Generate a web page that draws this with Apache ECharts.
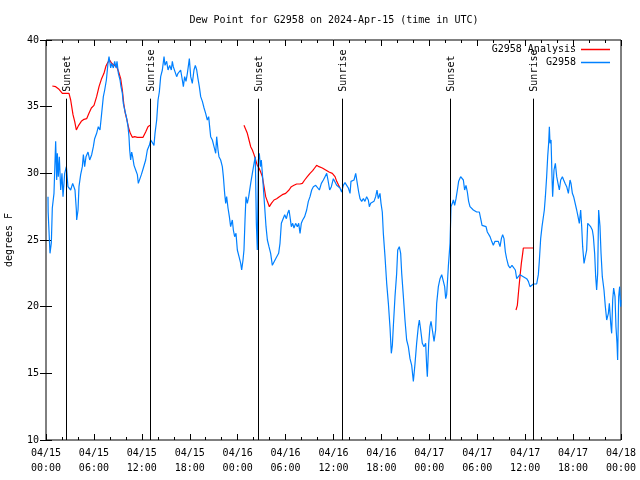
<!DOCTYPE html>
<html>
<head>
<meta charset="utf-8">
<script src="https://cdn.jsdelivr.net/npm/echarts@6/dist/echarts.min.js"></script>
<style>html,body{margin:0;padding:0;background:#fff}#c{width:640px;height:480px}</style>
</head>
<body>
<div id="c"></div>
<script>
// Hours since 2024-04-15 00:00 UTC
var tickLabels = ['04/15\n00:00','04/15\n06:00','04/15\n12:00','04/15\n18:00','04/16\n00:00','04/16\n06:00','04/16\n12:00','04/16\n18:00','04/17\n00:00','04/17\n06:00','04/17\n12:00','04/17\n18:00','04/18\n00:00'];

var eventHours = [2.55, 13.07, 26.58, 37.05, 50.6, 61.02];
var eventLabels = ['Sunset','Sunrise','Sunset','Sunrise','Sunset','Sunrise'];
var eventTop = 35.6;

var blueHours = [0.25,0.27,0.50,0.67,0.79,1.00,1.21,1.34,1.42,1.54,1.67,1.84,2.00,2.13,2.34,2.55,2.75,3.09,3.34,3.51,3.63,3.80,3.84,4.01,4.13,4.34,4.55,4.68,4.84,5.01,5.26,5.47,5.72,5.93,6.09,6.34,6.55,6.76,6.97,7.18,7.35,7.56,7.76,7.89,8.10,8.22,8.43,8.60,8.77,8.89,9.06,9.27,9.39,9.56,9.68,9.85,10.06,10.27,10.39,10.48,10.60,10.73,10.85,11.02,11.23,11.44,11.56,11.77,11.94,12.19,12.48,12.69,12.94,13.11,13.32,13.52,13.65,13.86,14.03,14.19,14.36,14.57,14.78,14.90,15.11,15.28,15.49,15.69,15.82,15.94,16.11,16.36,16.53,16.70,16.86,17.07,17.20,17.36,17.53,17.70,17.87,17.95,18.12,18.32,18.53,18.70,18.87,19.03,19.20,19.37,19.58,19.79,19.99,20.20,20.37,20.49,20.62,20.83,21.04,21.25,21.37,21.54,21.66,21.87,22.08,22.21,22.37,22.50,22.62,22.79,22.96,23.12,23.33,23.46,23.62,23.79,23.96,24.17,24.38,24.50,24.67,24.79,24.92,25.04,25.21,25.38,25.63,25.84,26.05,26.21,26.34,26.46,26.59,26.71,26.84,26.96,27.09,27.21,27.38,27.55,27.72,27.92,28.13,28.34,28.55,28.76,28.97,29.13,29.30,29.47,29.68,29.89,30.10,30.26,30.43,30.55,30.72,30.89,31.05,31.26,31.47,31.64,31.81,31.97,32.14,32.39,32.64,32.85,33.06,33.27,33.48,33.77,33.98,34.23,34.48,34.73,34.94,35.15,35.31,35.52,35.73,35.98,36.19,36.40,36.61,36.81,37.02,37.23,37.44,37.65,37.86,38.07,38.19,38.40,38.57,38.78,38.98,39.15,39.32,39.53,39.74,39.94,40.15,40.36,40.49,40.65,40.82,41.07,41.28,41.45,41.61,41.82,41.95,42.11,42.24,42.45,42.66,42.87,43.08,43.24,43.37,43.49,43.70,43.91,44.04,44.24,44.41,44.54,44.75,44.95,45.16,45.37,45.58,45.79,46.00,46.21,46.41,46.62,46.75,46.92,47.12,47.33,47.54,47.67,47.75,47.92,48.08,48.21,48.38,48.59,48.79,48.92,49.13,49.34,49.55,49.75,49.92,50.05,50.17,50.38,50.59,50.67,50.71,50.88,51.01,51.17,51.34,51.51,51.67,51.92,52.09,52.26,52.42,52.59,52.76,52.92,53.09,53.30,53.51,53.72,53.93,54.26,54.43,54.60,54.85,55.10,55.26,55.43,55.60,55.81,56.01,56.22,56.43,56.64,56.85,57.02,57.18,57.35,57.52,57.68,57.89,58.10,58.35,58.60,58.77,58.94,59.14,59.35,59.56,59.77,59.98,60.19,60.40,60.61,60.82,61.02,61.44,61.65,61.77,61.94,62.11,62.28,62.40,62.53,62.69,62.82,62.94,63.03,63.11,63.24,63.36,63.44,63.61,63.78,63.95,64.11,64.28,64.45,64.66,64.82,64.99,65.20,65.41,65.62,65.74,65.91,66.07,66.24,66.45,66.62,66.78,66.95,67.08,67.20,67.37,67.54,67.70,67.83,68.04,68.20,68.41,68.54,68.70,68.83,68.95,69.08,69.20,69.37,69.50,69.66,69.87,70.04,70.21,70.42,70.54,70.71,70.83,70.96,71.08,71.25,71.37,71.50,71.58,71.71,71.83,71.96,72.0];
var blueValues = [28.25,27.1,24.0,24.8,27.4,28.5,32.4,29.5,31.5,29.75,31.25,28.75,30.0,28.25,30.0,30.5,29.0,28.75,29.25,29.4,28.75,27.25,26.5,27.25,29.0,29.9,30.5,31.4,30.5,31.25,31.6,31.0,31.4,32.0,32.6,33.0,33.5,33.25,34.5,35.75,36.25,37.0,38.25,38.75,37.9,38.25,37.9,38.4,37.9,38.4,37.5,37.0,36.5,36.0,35.25,34.75,34.25,33.5,32.75,31.75,31.0,31.6,31.25,30.6,30.25,29.9,29.25,29.25,29.9,30.4,31.0,31.75,32.1,32.5,32.3,32.1,33.0,34.0,35.5,36.1,37.25,37.75,38.75,38.1,38.4,37.75,38.1,37.75,38.4,38.0,37.9,37.25,37.5,37.4,37.75,37.0,36.5,37.25,36.9,37.5,38.25,38.6,37.25,36.75,37.75,38.1,37.75,37.1,36.5,35.75,35.4,34.9,34.5,34.0,34.25,33.5,32.75,32.5,32.0,31.5,32.75,31.75,31.25,31.0,30.5,29.75,28.5,27.75,28.25,27.4,26.75,26.0,26.5,25.75,25.25,25.5,24.25,23.75,23.25,22.75,23.5,24.25,26.5,28.25,27.75,28.25,29.25,30.0,30.75,31.25,26.25,24.25,31.0,31.5,30.5,31.0,30.0,29.0,27.5,26.0,25.0,24.5,24.0,23.1,23.25,23.6,23.5,24.0,24.75,26.25,26.25,26.9,26.6,27.0,27.25,26.75,26.0,26.25,25.9,26.25,26.0,26.25,25.5,26.25,26.5,26.75,27.25,27.9,28.25,28.75,29.0,29.1,29.25,28.75,29.25,29.5,29.75,30.0,29.5,28.75,29.0,29.6,29.75,29.1,29.25,28.9,28.6,29.1,29.3,29.1,28.9,28.5,29.4,29.3,29.5,30.0,29.9,28.6,28.1,27.9,28.1,27.9,28.25,28.0,27.5,27.75,27.9,27.9,28.25,28.75,28.1,28.5,27.75,27.1,25.5,23.75,21.75,20.25,18.4,16.5,17.1,18.5,20.75,22.5,24.25,24.5,24.0,22.5,20.75,19.0,17.5,17.0,16.1,15.6,14.4,15.75,17.25,18.5,19.0,18.25,17.25,17.0,17.25,15.5,14.75,17.25,18.5,18.9,18.25,17.4,18.25,20.25,21.5,22.1,22.4,22.4,21.5,20.6,20.9,23.0,24.75,26.5,27.5,27.75,28.0,27.6,28.1,28.75,29.4,29.75,29.6,29.5,28.75,29.1,28.6,27.9,27.5,27.4,27.25,27.25,27.1,27.1,26.6,26.1,26.1,26.0,25.6,25.5,25.25,24.9,24.6,24.9,24.75,24.9,24.5,25.1,25.4,25.1,24.1,23.6,23.1,22.9,23.1,23.1,22.75,22.1,22.2,22.4,22.5,22.25,22.4,22.1,21.9,21.5,21.6,21.7,21.7,22.4,23.4,25.1,26.0,25.9,27.25,28.25,29.75,31.25,32.25,33.5,32.25,32.5,29.75,28.25,30.25,30.75,29.75,29.25,28.75,29.5,29.75,29.5,29.25,29.0,28.5,29.5,29.25,28.5,28.25,28.25,27.25,26.75,26.25,27.25,26.0,24.5,23.25,23.25,24.25,26.25,26.25,26.0,25.75,25.25,24.0,22.25,21.25,22.5,27.25,26.0,24.0,22.25,21.25,20.0,19.0,19.5,20.25,18.75,18.0,20.5,21.4,20.75,18.5,17.25,16.0,20.75,21.5,20.0,20.5];

var redHours = [0.79,1.21,1.63,2.05,2.46,2.88,3.09,3.38,3.59,3.80,4.09,4.42,4.76,5.09,5.38,5.68,6.01,6.34,6.64,6.93,7.26,7.51,7.72,7.97,8.22,8.52,8.85,9.10,9.35,9.56,9.73,9.93,10.14,10.35,10.56,10.81,11.10,11.44,11.85,12.15,12.48,12.77,13.02,18.0,24.79,25.21,25.42,25.63,25.84,26.05,26.25,26.46,26.67,26.88,27.09,27.30,27.51,27.72,27.97,28.22,28.55,28.88,29.22,29.59,30.01,30.43,30.72,31.05,31.39,31.81,32.10,32.39,32.72,33.06,33.39,33.64,33.89,34.18,34.60,35.02,35.44,35.85,35.98,36.19,36.40,36.61,36.81,48.0,58.85,59.02,59.19,59.35,59.52,59.69,59.77,61.02];
var redValues = [36.55,36.5,36.3,36.0,36.0,36.0,35.5,34.4,33.9,33.25,33.6,33.9,34.05,34.1,34.5,34.9,35.1,35.75,36.5,37.05,37.5,38.05,38.3,38.5,38.25,38.1,38.0,37.6,37.1,36.25,35.25,34.5,34.0,33.4,33.0,32.7,32.75,32.7,32.7,32.7,33.1,33.5,33.6,null,33.6,33.0,32.5,32.0,31.75,31.4,31.0,30.6,30.4,30.1,29.75,29.0,28.25,27.9,27.5,27.75,28.0,28.1,28.25,28.4,28.5,28.75,29.0,29.1,29.2,29.2,29.25,29.5,29.75,30.0,30.2,30.4,30.6,30.5,30.4,30.25,30.1,30.0,29.9,29.75,29.4,29.25,28.9,null,19.75,20.1,21.25,22.25,23.25,24.0,24.4,24.4];

var FONT = 'DejaVu Sans Mono';

function pairs(xs, ys){ return xs.map(function(x,i){ return [x, ys[i]]; }); }

var chart = echarts.init(document.getElementById('c'), null, {renderer:'canvas'});
chart.setOption({
  animation: false,
  backgroundColor: '#fff',
  title: {
    text: 'Dew Point for G2958 on 2024-Apr-15 (time in UTC)',
    left: 334, top: 15, padding: 0, textAlign: 'center',
    textStyle: {fontFamily: FONT, fontSize: 10, fontWeight: 'normal', color: '#000'}
  },
  legend: {
    data: ['G2958 Analysis', 'G2958'],
    orient: 'vertical', right: 30, top: 43, padding: 0,
    align: 'right', itemWidth: 29, itemHeight: 1.5, itemGap: 0,
    icon: 'rect',
    textStyle: {fontFamily: FONT, fontSize: 10, color: '#000', lineHeight: 13}
  },
  grid: {left: 46, right: 19, top: 40, bottom: 40, containLabel: false, outerBoundsMode: 'none',
    show: true, borderColor: '#000', borderWidth: 1, backgroundColor: 'transparent'},
  xAxis: [{
    type: 'value', min: 0, max: 72, interval: 6, position: 'bottom',
    axisLine: {show: false},
    axisTick: {show: true, inside: true, length: 6, lineStyle: {color: '#000'}},
    minorTick: {show: true, splitNumber: 3, length: 3, lineStyle: {color: '#000'}},
    splitLine: {show: false},
    axisLabel: {fontFamily: FONT, fontSize: 10, color: '#000', margin: 6, lineHeight: 15,
      formatter: function(v){ return tickLabels[Math.round(v/6)]; }}
  },{
    type: 'value', min: 0, max: 72, interval: 6, position: 'top',
    axisLine: {show: false},
    axisTick: {show: true, inside: true, length: 6, lineStyle: {color: '#000'}},
    minorTick: {show: true, splitNumber: 3, length: 3, lineStyle: {color: '#000'}},
    splitLine: {show: false}, axisLabel: {show: false}
  }],
  yAxis: [{
    type: 'value', min: 10, max: 40, interval: 5, position: 'left',
    name: 'degrees F', nameLocation: 'middle', nameGap: 32,
    nameTextStyle: {fontFamily: FONT, fontSize: 10, color: '#000'},
    axisLine: {show: false},
    axisTick: {show: true, inside: true, length: 6, lineStyle: {color: '#000'}},
    splitLine: {show: false},
    axisLabel: {fontFamily: FONT, fontSize: 10, color: '#000', margin: 7}
  },{
    type: 'value', min: 10, max: 40, interval: 5, position: 'right',
    axisLine: {show: false},
    axisTick: {show: true, inside: true, length: 6, lineStyle: {color: '#000'}},
    splitLine: {show: false}, axisLabel: {show: false}
  }],
  series: [{
    name: 'G2958 Analysis', type: 'line', data: pairs(redHours, redValues),
    showSymbol: false, symbol: 'none', connectNulls: false,
    lineStyle: {color: '#ff0000', width: 1.2}, itemStyle: {color: '#ff0000'}, z: 2
  },{
    name: 'G2958', type: 'line', data: pairs(blueHours, blueValues),
    showSymbol: false, symbol: 'none',
    lineStyle: {color: '#0080ff', width: 1.2}, itemStyle: {color: '#0080ff'}, z: 3
  },{
    name: 'events', type: 'custom', z: 4, silent: true,
    data: eventHours.map(function(h){ return [h, eventTop]; }),
    renderItem: function(params, api){
      var h = api.value(0);
      var p0 = api.coord([h, 10]);
      var p1 = api.coord([h, api.value(1)]);
      var x = Math.round(p0[0]) + 0.5;
      return {type: 'group', children: [
        {type: 'line', shape: {x1: x, y1: p0[1], x2: x, y2: p1[1]}, style: {stroke: '#000', lineWidth: 1}},
        {type: 'text', x: x + 1, y: p1[1] - 7, rotation: Math.PI / 2,
         style: {text: eventLabels[params.dataIndex], fill: '#000', font: '10px "DejaVu Sans Mono"', align: 'left', verticalAlign: 'middle'}}
      ]};
    }
  }]
});
</script>
</body>
</html>
